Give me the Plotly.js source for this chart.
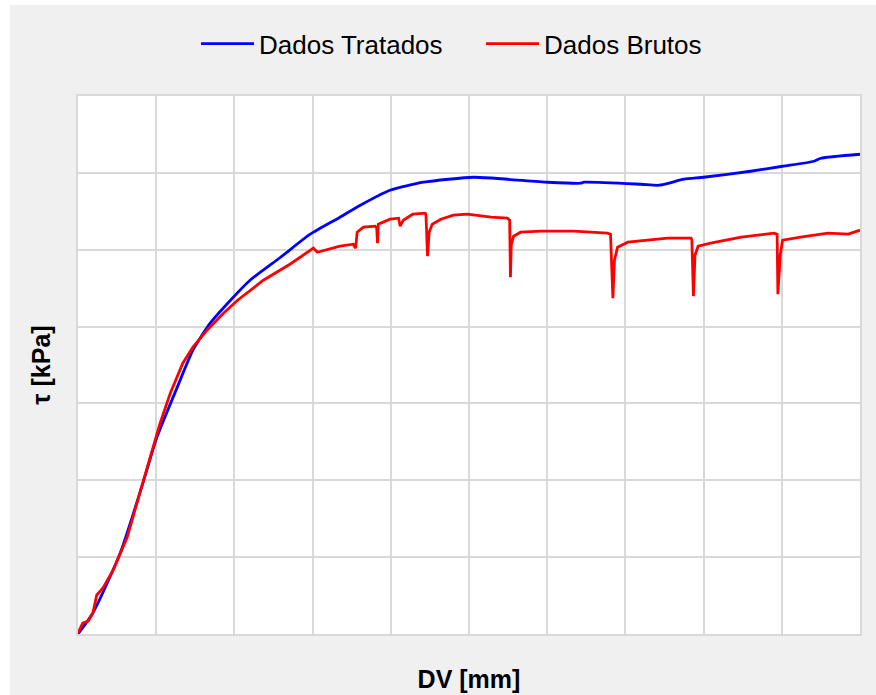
<!DOCTYPE html>
<html>
<head>
<meta charset="utf-8">
<script src="https://cdn.plot.ly/plotly-3.0.1.min.js"></script>
<style>
  html, body { margin: 0; padding: 0; background: #ffffff; }
  #chart { position: absolute; left: 10px; top: 5px; width: 866px; height: 690px; }
</style>
</head>
<body>
<div id="chart"></div>
<script>
// Dados Tratados (blue)
const tratadosDV = [0, 0.19, 0.54, 0.83, 1.01, 1.27, 1.47, 1.69, 1.95, 2.20, 2.59, 2.97, 3.35, 3.61, 3.99, 4.42, 5.06, 5.49, 6.01, 6.43, 6.47, 7.20, 7.43, 7.75, 8.00, 8.60, 9.01, 9.41, 9.50, 10.0];
const tratadosTau = [0, 2.73, 10.53, 19.64, 25.62, 32.12, 36.93, 40.44, 43.43, 46.03, 49.02, 52.02, 54.23, 55.79, 57.74, 58.78, 59.43, 59.17, 58.78, 58.65, 58.78, 58.52, 58.39, 59.17, 59.43, 60.21, 60.86, 61.51, 61.90, 62.42];

// Dados Brutos (red)
const brutosDV = [0, 0.06, 0.13, 0.19, 0.24, 0.32, 0.45, 0.54, 0.63, 0.79, 0.96, 1.05, 1.18, 1.34, 1.47, 1.65, 1.86, 2.04, 2.37, 2.71, 3.01, 3.06, 3.35, 3.52, 3.55, 3.57, 3.65, 3.80, 3.82, 3.83, 3.84, 3.99, 4.10, 4.12, 4.16, 4.28, 4.44, 4.45, 4.47, 4.49, 4.53, 4.64, 4.80, 4.98, 5.28, 5.49, 5.52, 5.53, 5.54, 5.57, 5.66, 5.92, 6.34, 6.77, 6.81, 6.84, 6.86, 6.90, 7.03, 7.32, 7.54, 7.84, 7.85, 7.87, 7.89, 7.93, 8.09, 8.48, 8.90, 8.94, 8.95, 8.98, 9.01, 9.24, 9.59, 9.85, 9.92, 10.0];
const brutosTau = [0.13, 1.43, 1.69, 2.73, 5.07, 5.98, 8.32, 10.53, 12.61, 18.34, 24.32, 27.44, 31.34, 35.24, 37.32, 39.53, 41.74, 43.43, 46.03, 48.11, 50.2, 49.67, 50.46, 50.72, 50.2, 52.28, 52.93, 53.06, 52.8, 50.85, 53.32, 53.97, 54.1, 53.06, 53.84, 54.62, 54.75, 54.49, 49.15, 52.28, 53.32, 53.97, 54.49, 54.62, 54.23, 54.1, 53.84, 46.42, 50.59, 51.76, 52.28, 52.41, 52.41, 52.15, 52.02, 43.69, 48.63, 50.33, 50.98, 51.24, 51.50, 51.50, 51.24, 43.95, 49.28, 50.46, 50.85, 51.63, 52.15, 52.02, 44.21, 49.28, 51.24, 51.63, 52.15, 52.02, 52.28, 52.54];

const traces = [
  { x: tratadosDV, y: tratadosTau, type: 'scatter', mode: 'lines', name: 'Dados Tratados',
    line: { color: '#0000ff', width: 2.8, shape: 'spline', smoothing: 0.6 } },
  { x: brutosDV, y: brutosTau, type: 'scatter', mode: 'lines', name: 'Dados Brutos',
    line: { color: '#ff0000', width: 2.8 } }
];

const axisCommon = {
  showticklabels: false, ticks: '', showgrid: true, gridcolor: '#d9d9d9', gridwidth: 2,
  zeroline: false, showline: true, mirror: true, linecolor: '#d9d9d9', linewidth: 2
};

const layout = {
  width: 866, height: 690,
  paper_bgcolor: '#f0f0f0', plot_bgcolor: '#ffffff',
  margin: { l: 68, r: 16, t: 91, b: 61 },
  font: { family: 'Liberation Sans, Arial, sans-serif', color: '#000000' },
  showlegend: true,
  legend: { orientation: 'h', x: 0.1509, xanchor: 'left', y: 1.097, yanchor: 'middle',
            font: { size: 26 }, bgcolor: 'rgba(0,0,0,0)', itemwidth: 53,
            entrywidth: 217, entrywidthmode: 'pixels' },
  xaxis: Object.assign({}, axisCommon, { range: [0, 10], dtick: 1,
    title: { text: '<b>DV [mm]</b>', font: { size: 25 }, standoff: 35 } }),
  yaxis: Object.assign({}, axisCommon, { range: [0, 70], dtick: 10,
    title: { text: '<b>τ [kPa]</b>', font: { size: 25 }, standoff: 18 } })
};

Plotly.newPlot('chart', traces, layout, { staticPlot: true, displayModeBar: false });
</script>
</body>
</html>
